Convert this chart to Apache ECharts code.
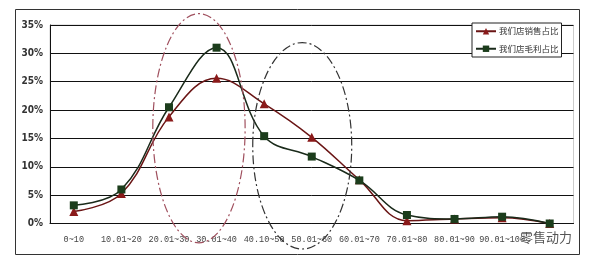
<!DOCTYPE html>
<html><head><meta charset="utf-8">
<script src="https://cdn.jsdelivr.net/npm/echarts@6/dist/echarts.min.js"></script>
<style>html,body{margin:0;padding:0;background:#fff}#c{width:592px;height:263px}</style>
</head><body><div id="c"></div>
<script>
var categories = ['0~10','10.01~20','20.01~30','30.01~40','40.10~50','50.01~60','60.01~70','70.01~80','80.01~90','90.01~100',''];
var salesShare = [2.1, 5.3, 18.8, 25.6, 21.1, 15.2, 7.7, 0.5, 0.8, 1.0, 0];
var profitShare = [3.2, 6.0, 20.5, 31.0, 15.4, 11.8, 7.6, 1.5, 0.8, 1.2, 0];
var seriesNames = ['我们店销售占比','我们店毛利占比'];
var yTicks = [0, 5, 10, 15, 20, 25, 30, 35];

var chart = echarts.init(document.getElementById('c'), null, {renderer:'canvas'});
var option = {
  animation: false,
  backgroundColor: '#fff',
  grid: {left: 50, right: 18.5, top: 25, bottom: 39.5, show: true, borderColor: '#ccc', borderWidth: 1},
  legend: {
    orient: 'vertical', left: 472, top: 23, width: 86,
    backgroundColor: '#fff', borderColor: '#222', borderWidth: 1, padding: [4, 3, 4, 3],
    itemWidth: 20, itemHeight: 8, itemGap: 9,
    textStyle: {fontFamily: 'Noto Sans CJK SC', fontSize: 8.5, color: '#333', padding: [0,0,0,-2]},
    data: seriesNames
  },
  xAxis: {
    type: 'category', data: categories, boundaryGap: true,
    axisLine: {lineStyle: {color: '#111', width: 1}},
    axisTick: {inside: true, length: 4, lineStyle: {color: '#111'}},
    axisLabel: {fontFamily: 'Liberation Mono', fontSize: 8.5, color: '#444', margin: 12, interval: 0}
  },
  yAxis: {
    type: 'value', min: yTicks[0], max: yTicks[yTicks.length-1], interval: 5,
    axisLine: {show: true, lineStyle: {color: '#111'}},
    axisTick: {show: false},
    splitLine: {lineStyle: {color: '#111', width: 1}},
    axisLabel: {formatter: '{value}%', fontFamily: 'Liberation Sans Narrow, DejaVu Sans Condensed', fontWeight: 'bold', fontSize: 10, color: '#333', margin: 7}
  },
  series: [
    {name: seriesNames[0], type: 'line', data: salesShare, smooth: 0.4,
     symbol: 'triangle', symbolSize: 9, color: '#7d1818',
     lineStyle: {color: '#6a1515', width: 1.5}, itemStyle: {color: '#8a1a1a'}, z: 3},
    {name: seriesNames[1], type: 'line', data: profitShare, smooth: 0.4,
     symbol: 'rect', symbolSize: 8, color: '#163a16',
     lineStyle: {color: '#1a2a1a', width: 1.5}, itemStyle: {color: '#1c3d1c'}, z: 4}
  ]
};
chart.setOption(option);

function px(ci, v){ return chart.convertToPixel({gridIndex:0}, [ci, v]); }
function lerpPt(c0, c1, t, v){ var a = px(c0, v), b = px(c1, v); return [a[0] + (b[0]-a[0])*t, a[1]]; }
var p0 = px(0, 0), p5 = px(0, 5);
var unit = (p0[1] - p5[1]) / 5;
var catW = px(1, 0)[0] - p0[0];
var e1 = lerpPt(2, 3, 0.63, 16.8);
var e2 = lerpPt(4, 5, 0.8, 13.7);
chart.setOption({
  graphic: [
    {type: 'rect', shape: {x: 15.5, y: 9.5, width: 564, height: 245}, style: {fill: null, stroke: '#333', lineWidth: 1}, z: -1, silent: true},
    {type: 'ellipse', shape: {cx: e1[0], cy: e1[1], rx: catW*0.97, ry: unit*20.2},
     style: {fill: null, stroke: '#a0505e', lineWidth: 1.2, lineDash: [9, 3, 2, 3]}, z: 10},
    {type: 'ellipse', shape: {cx: e2[0], cy: e2[1], rx: catW*1.04, ry: unit*18.2},
     style: {fill: null, stroke: '#333', lineWidth: 1.2, lineDash: [9, 3, 2, 3]}, z: 10},
    {type: 'text', left: 520, top: 231, style: {text: '零售动力', font: '13px "Noto Sans CJK SC"', fill: '#555'}, z: 20}
  ]
});
</script></body></html>
